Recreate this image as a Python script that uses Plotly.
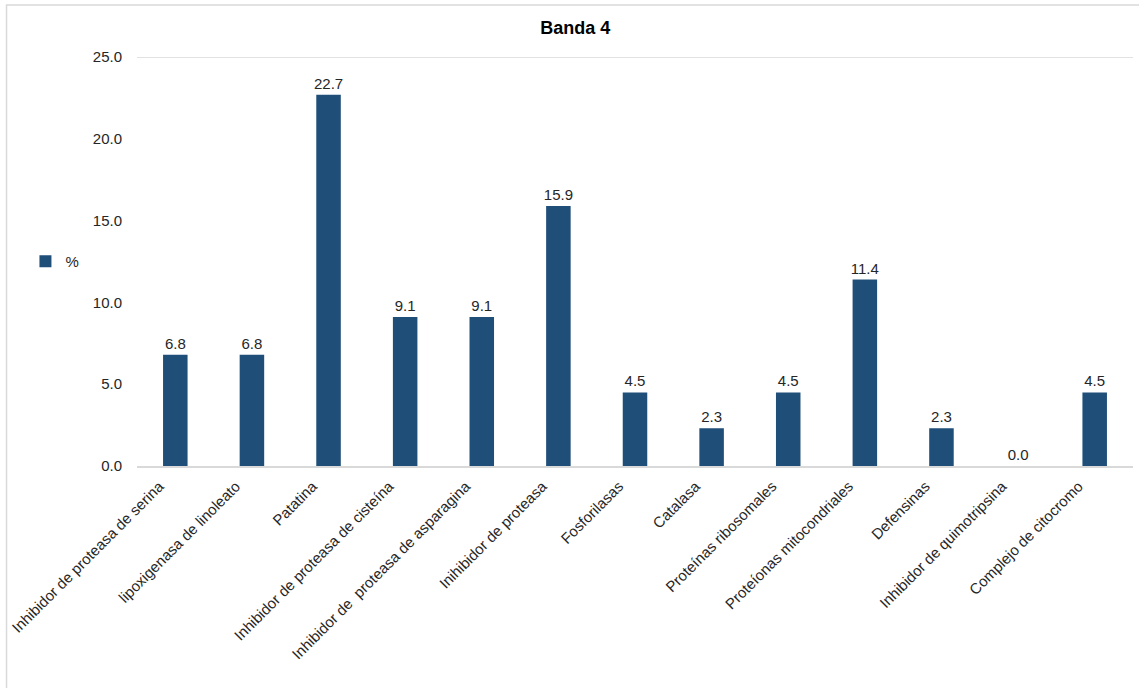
import plotly.graph_objects as go

categories = [
    "Inhibidor de proteasa de serina",
    "lipoxigenasa de linoleato",
    "Patatina",
    "Inhibidor de proteasa de cisteína",
    "Inhibidor de  proteasa de asparagina",
    "Inihibidor de proteasa",
    "Fosforilasas",
    "Catalasa",
    "Proteínas ribosomales",
    "Proteíonas mitocondriales",
    "Defensinas",
    "Inhibidor de quimotripsina",
    "Complejo de citocromo",
]
values = [6.8, 6.8, 22.7, 9.1, 9.1, 15.9, 4.5, 2.3, 4.5, 11.4, 2.3, 0.0, 4.5]
tick_vals = [0, 5, 10, 15, 20, 25]
tick_text = ["0.0", "5.0", "10.0", "15.0", "20.0", "25.0"]

font_family = "Liberation Sans, Arial, sans-serif"

fig = go.Figure()
fig.add_trace(go.Bar(
    x=categories, y=values, name="%",
    marker=dict(color="#1F4E79", line=dict(width=0)),
    width=0.32,
    text=[f"{v:.1f}" for v in values], textposition="outside",
    constraintext="none",
    textfont=dict(size=15, color="#262626", family=font_family),
    cliponaxis=False,
))

fig.update_layout(
    width=1139, height=688,
    margin=dict(l=137, r=6, t=57, b=222),
    paper_bgcolor="white", plot_bgcolor="white",
    font=dict(family=font_family, size=15, color="#404040"),
    title=dict(text="<b>Banda 4</b>", x=0.505, xanchor="center", y=0.96, yanchor="middle",
               font=dict(size=18, color="#000000", family=font_family)),
    showlegend=True,
    legend=dict(x=-0.112, y=0.5, xanchor="left", yanchor="middle",
                font=dict(size=15, color="#262626"), itemwidth=30,
                bgcolor="rgba(0,0,0,0)"),
    shapes=[dict(type="rect", xref="paper", yref="paper",
                 x0=-0.131, x1=1.02, y0=-0.6, y1=1.127,
                 line=dict(color="#D9D9D9", width=1.5), layer="below")],
)
fig.update_xaxes(tickangle=-45, showgrid=False, showline=True, linecolor="#D9D9D9",
                 linewidth=1.5, ticks="", tickfont=dict(size=15, color="#262626"),
                 ticklabelshift=-16, ticklabelstandoff=4)
fig.update_yaxes(range=[0, 25], tickvals=tick_vals, ticktext=tick_text, showgrid=False,
                 zeroline=False, showline=False, ticks="",
                 tickfont=dict(size=15, color="#262626"), ticklabelstandoff=14)
fig.add_shape(type="line", xref="paper", yref="y", x0=0, x1=1, y0=25, y1=25,
              line=dict(color="#D9D9D9", width=1.5))

fig.write_html("out.html")
